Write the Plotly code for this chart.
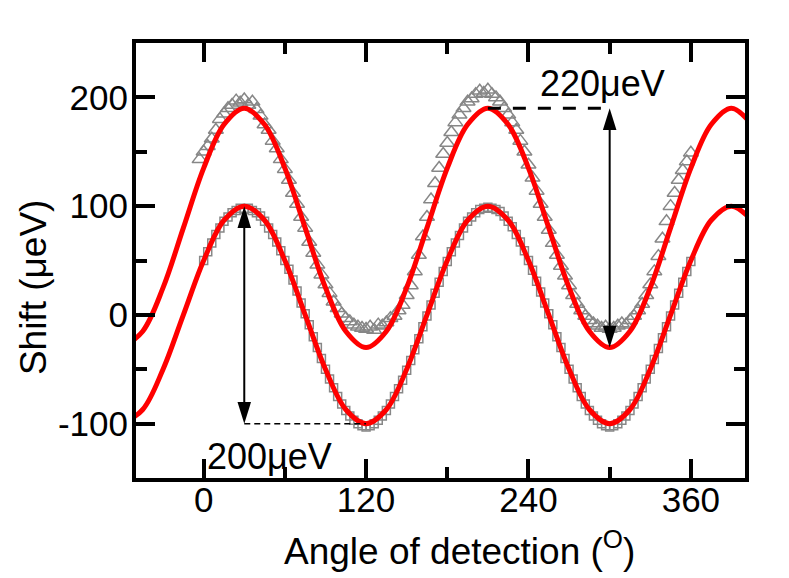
import plotly.graph_objects as go

FONT = "Arial, Liberation Sans, sans-serif"
GRAY = "#878787"
RED = "#ff0000"

# angles of detection (degrees) of the measured points
ANGLE = [-3, 0, 3, 6, 9, 12, 15, 18, 21, 24, 27, 30, 33, 36, 39, 42, 45, 48, 51, 54,
         57, 60, 63, 66, 69, 72, 75, 78, 81, 84, 87, 90, 93, 96, 99, 102, 105, 108, 111,
         114, 117, 120, 123, 126, 129, 132, 135, 138, 141, 144, 147, 150, 153, 156, 159,
         162, 165, 168, 171, 174, 177, 180, 183, 186, 189, 192, 195, 198, 201, 204, 207,
         210, 213, 216, 219, 222, 225, 228, 231, 234, 237, 240, 243, 246, 249, 252, 255,
         258, 261, 264, 267, 270, 273, 276, 279, 282, 285, 288, 291, 294, 297, 300, 303,
         306, 309, 312, 315, 318, 321, 324, 327, 330, 333, 336, 339, 342, 345, 348, 351,
         354, 357, 360]

# upper data set (open triangles), shift in ueV
TRI_SHIFT = [143, 150, 155, 162, 170, 180, 185, 190, 193, 197, 195, 198, 193, 196, 189,
             183, 175, 170, 160, 153, 143, 134, 124, 112, 102, 90, 80, 67, 57, 46, 37, 28,
             20, 12, 6, 1, -3, -6, -9, -11, -12, -13, -11, -14, -9, -10, -7, -3, -1, 4, 9,
             18, 27, 40, 55, 72, 90, 106, 121, 135, 148, 158, 168, 177, 184, 190, 196, 199,
             203, 206, 204, 207, 203, 200, 196, 190, 184, 177, 170, 160, 150, 138, 126, 114,
             102, 90, 78, 66, 55, 45, 36, 27, 18, 10, 4, -1, -5, -8, -10, -12, -11, -13, -12,
             -10, -8, -9, -5, -1, 4, 10, 18, 28, 40, 54, 70, 86, 100, 112, 124, 133, 141,
             149]

# lower data set (open squares), starts at 0 deg
SQ_ANGLE = ANGLE[1:]
SQ_SHIFT = [50, 58, 66, 74, 80, 86, 90, 94, 96, 98, 97, 98, 96, 94, 91, 86, 80, 74, 67,
            59, 50, 42, 32, 22, 11, 1, -9, -20, -30, -40, -50, -59, -67, -75, -82, -88,
            -93, -97, -100, -102, -103, -102, -100, -97, -93, -88, -82, -75, -68, -60, -51,
            -42, -32, -22, -11, -1, 9, 20, 30, 40, 49, 58, 66, 73, 80, 86, 90, 94, 97, 98,
            99, 98, 97, 95, 91, 86, 81, 74, 67, 59, 50, 41, 31, 21, 11, 1, -9, -20, -30,
            -40, -50, -59, -67, -75, -82, -88, -93, -97, -100, -102, -103, -102, -100, -97,
            -93, -88, -82, -75, -67, -59, -50, -41, -31, -21, -11, -1, 9, 20, 30, 40, 49]

# red fitted curves (ends run just past the frame)
FIT_ANGLE = [-60, -45, -30, -15, 0, 15, 30, 45, 60, 75, 90, 105, 120, 135, 150, 165, 180,
             195, 210, 225, 240, 255, 270, 285, 300, 315, 330, 345, 360, 375, 390, 405]
FIT_UPPER = [-30, -15, 25, 80, 135, 175, 190, 175, 135, 80, 25, -15, -30, -15, 25, 80, 135,
             175, 190, 175, 135, 80, 25, -15, -30, -15, 25, 80, 135, 175, 190, 175]
FIT_LOWER = [-100, -87, -50, 0, 50, 87, 100, 87, 50, 0, -50, -87, -100, -87, -50, 0, 50, 87,
             100, 87, 50, 0, -50, -87, -100, -87, -50, 0, 50, 87, 100, 87]

X_TICKS = [0, 120, 240, 360]
X_MINOR = [60, 180, 300]
Y_TICKS = [-100, 0, 100, 200]
Y_TICKTEXT = ["-100", "0", "100", "200"]
Y_MINOR = [-50, 50, 150]

# (angle, top, bottom) of the double arrows, and the dashed guide lines
ARROWS = [(30, 100, -100), (300, 190, -30)]
GUIDES = [(30, 120, -100), (210, 300, 190)]
LABELS = [("200μeV", 49, -130), ("220μeV", 295, 213)]


def arrow_shapes(x, y_top, y_bot, hw=5, hl=20):
    head = dict(type="path", fillcolor="black", line=dict(width=0), layer="above")
    return [
        dict(type="line", x0=x, x1=x, y0=y_bot + 5, y1=y_top - 5,
             line=dict(color="black", width=2)),
        dict(head, path=f"M {x - hw},{y_top - hl} L {x + hw},{y_top - hl} L {x},{y_top} Z"),
        dict(head, path=f"M {x - hw},{y_bot + hl} L {x + hw},{y_bot + hl} L {x},{y_bot} Z"),
    ]


fig = go.Figure()
fig.add_trace(go.Scatter(x=SQ_ANGLE, y=SQ_SHIFT, mode="markers",
                         marker=dict(symbol="square-open", size=8, color=GRAY,
                                     line=dict(width=1.5, color=GRAY))))
fig.add_trace(go.Scatter(x=ANGLE, y=TRI_SHIFT, mode="markers",
                         marker=dict(symbol="triangle-up-open", size=13, color=GRAY,
                                     line=dict(width=1.5, color=GRAY))))
for fit in (FIT_UPPER, FIT_LOWER):
    fig.add_trace(go.Scatter(x=FIT_ANGLE, y=fit, mode="lines",
                             line=dict(color=RED, width=5, shape="spline")))

shapes = []
for x, top, bot in ARROWS:
    shapes += arrow_shapes(x, top, bot)
(x0, x1, y), (u0, u1, v) = GUIDES
shapes.append(dict(type="line", x0=x0, x1=x1, y0=y, y1=y,
                   line=dict(color="black", width=1.5, dash="6px,4px")))
shapes.append(dict(type="line", x0=u0, x1=u1, y0=v, y1=v,
                   line=dict(color="black", width=3, dash="13px,12px")))

annotations = [dict(x=lx, y=ly, text=t, showarrow=False, xanchor="center",
                    yanchor="middle", font=dict(size=36, color="black"))
               for t, lx, ly in LABELS]
annotations += [
    dict(xref="paper", yref="paper", x=0.532, y=-0.162, showarrow=False,
         text="Angle of detection (<sup>O</sup>)", xanchor="center", yanchor="middle",
         font=dict(size=37, color="black")),
    dict(xref="paper", yref="paper", x=-0.169, y=0.439, showarrow=False,
         text="Shift (μeV)", textangle=-90, xanchor="center", yanchor="middle",
         font=dict(size=37, color="black")),
]

axis = dict(ticks="inside", ticklen=19, tickwidth=3.5, tickcolor="black",
            showline=True, linewidth=4, linecolor="black", mirror="ticks",
            showgrid=False, zeroline=False, tickfont=dict(size=35, color="black"))

# the page body adds an 8 px offset, so the figure is 8 px smaller than the window
fig.update_layout(
    width=781, height=570,
    margin=dict(l=128, r=44, t=35, b=100),
    paper_bgcolor="white", plot_bgcolor="white",
    font=dict(family=FONT, color="black"),
    showlegend=False,
    shapes=shapes,
    annotations=annotations,
    xaxis=dict(axis, range=[-50, 400], tickmode="array", tickvals=X_TICKS,
               ticklabelstandoff=-12,
               minor=dict(tickvals=X_MINOR, ticks="inside", ticklen=11, tickwidth=3.5,
                          tickcolor="black")),
    yaxis=dict(axis, range=[-150, 250], tickmode="array", tickvals=Y_TICKS,
               ticktext=Y_TICKTEXT, ticklabelstandoff=-3,
               minor=dict(tickvals=Y_MINOR, ticks="inside", ticklen=11, tickwidth=3.5,
                          tickcolor="black")),
)

fig.write_html("out.html")
